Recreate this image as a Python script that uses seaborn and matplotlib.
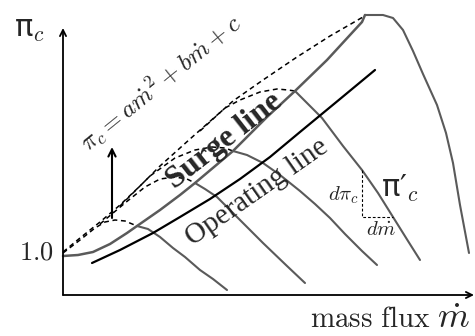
import matplotlib
matplotlib.use("Agg")
import matplotlib.pyplot as plt
import seaborn as sns

# ---- data: mass flux (m) and pressure ratio (pi) ----
surge_m = [0.00, 0.15, 0.30, 0.47, 0.64, 0.74, 0.97, 1.17, 1.32, 1.70, 2.04, 2.32, 2.64, 2.87, 2.99, 3.02]
surge_pi = [1.00, 1.01, 1.04, 1.12, 1.23, 1.30, 1.46, 1.61, 1.73, 2.05, 2.39, 2.65, 2.96, 3.21, 3.34, 3.41]

speed1_m = [0.74, 0.85, 0.97, 1.10, 1.22, 1.37, 1.50, 1.64]
speed1_pi = [1.30, 1.27, 1.19, 1.08, 0.99, 0.86, 0.77, 0.66]
speed2_m = [1.32, 1.42, 1.54, 1.77, 2.00, 2.24, 2.42]
speed2_pi = [1.73, 1.67, 1.59, 1.36, 1.13, 0.90, 0.73]
speed3_m = [1.70, 1.84, 2.00, 2.17, 2.37, 2.52, 2.67, 2.82, 2.99, 3.14]
speed3_pi = [2.05, 2.01, 1.93, 1.81, 1.65, 1.52, 1.38, 1.22, 1.05, 0.91]
speed4_m = [2.32, 2.42, 2.59, 2.80, 2.99, 3.15, 3.30, 3.45, 3.57]
speed4_pi = [2.65, 2.55, 2.38, 2.10, 1.86, 1.63, 1.39, 1.15, 0.96]
speed5_m = [3.02, 3.20, 3.30, 3.40, 3.50, 3.60, 3.74, 3.83, 3.90, 3.97, 4.06]
speed5_pi = [3.41, 3.41, 3.38, 3.26, 3.05, 2.82, 2.51, 2.23, 1.93, 1.51, 1.03]

oper_m = [0.29, 0.57, 0.90, 1.17, 1.47, 1.77, 2.07, 2.37, 2.77, 3.12]
oper_pi = [0.93, 1.06, 1.23, 1.39, 1.57, 1.77, 1.99, 2.24, 2.57, 2.86]

parab_m = [0.00, 0.17, 0.37, 0.57, 0.77, 0.97, 1.27, 1.70, 2.00, 2.34, 2.67, 3.00]
parab_pi = [1.04, 1.18, 1.34, 1.51, 1.70, 1.90, 2.17, 2.55, 2.76, 2.99, 3.20, 3.39]

hump1_m = [0.00, 0.17, 0.32, 0.42, 0.52, 0.62, 0.74]
hump1_pi = [1.03, 1.16, 1.28, 1.34, 1.36, 1.35, 1.30]
hump2_m = [0.37, 0.62, 0.82, 0.97, 1.12, 1.24, 1.32]
hump2_pi = [1.32, 1.53, 1.69, 1.77, 1.79, 1.77, 1.73]
hump3_m = [0.57, 0.87, 1.12, 1.32, 1.49, 1.62, 1.70]
hump3_pi = [1.50, 1.80, 1.98, 2.06, 2.09, 2.08, 2.05]
hump4_m = [1.37, 1.62, 1.77, 1.97, 2.14, 2.25, 2.32]
hump4_pi = [2.25, 2.48, 2.56, 2.64, 2.67, 2.66, 2.65]

slope_m = [2.99, 2.99, 3.30]
slope_pi = [1.86, 1.39, 1.39]

arrow_m = 0.49
arrow_pi = [1.38, 2.09]

axis_origin = (0.0, 0.61)
axis_xmax = 4.11
axis_ymax = 3.28

# ---- style ----
sns.set_theme(style="white")
plt.rcParams["mathtext.fontset"] = "cm"
plt.rcParams["font.family"] = ["DejaVu Sans"]

fig = plt.figure(figsize=(4.75, 3.36), dpi=100)
ax = fig.add_axes([0, 0, 1, 1])
ax.set_xlim(-0.63, 4.12)
ax.set_ylim(0.20, 3.56)
ax.set_axis_off()

GRAY = "#5a5a5a"


def draw(m, p, **kw):
    sns.lineplot(x=m, y=p, sort=False, estimator=None, ax=ax, legend=False, **kw)


dash = (0, (3.2, 2.4))
for hm, hp in [(parab_m, parab_pi), (hump1_m, hump1_pi), (hump2_m, hump2_pi),
               (hump3_m, hump3_pi), (hump4_m, hump4_pi)]:
    draw(hm, hp, color="black", linewidth=1.1, linestyle=dash)

for sm, sp in [(speed1_m, speed1_pi), (speed2_m, speed2_pi), (speed3_m, speed3_pi),
               (speed4_m, speed4_pi), (speed5_m, speed5_pi)]:
    draw(sm, sp, color=GRAY, linewidth=1.5)

draw(surge_m, surge_pi, color=GRAY, linewidth=1.8)
draw(oper_m, oper_pi, color="black", linewidth=1.6)
draw(slope_m, slope_pi, color="black", linewidth=0.8, linestyle=(0, (2.5, 1.8)))

# axes arrows
arrow_kw = dict(arrowstyle="->", lw=1.3, color="black", shrinkA=0, shrinkB=0,
                mutation_scale=11)
ax.annotate("", xy=(axis_origin[0], axis_ymax), xytext=axis_origin, arrowprops=arrow_kw)
ax.annotate("", xy=(axis_xmax, axis_origin[1]), xytext=axis_origin, arrowprops=arrow_kw)
ax.annotate("", xy=(arrow_m, arrow_pi[1]), xytext=(arrow_m, arrow_pi[0]),
            arrowprops=dict(arrowstyle="->", lw=1.5, color="black", shrinkA=0,
                            shrinkB=0, mutation_scale=13))

# texts
ax.text(-0.34, 3.27, "π$_c$", fontsize=22, ha="center", va="center", family="DejaVu Sans")
ax.text(-0.095, 1.04, r"$\mathrm{1.0}$", fontsize=19, ha="right", va="center")
ax.text(3.07, 0.37, r"$\mathrm{mass\ flux}$", fontsize=21, ha="center", va="center")
ax.text(3.90, 0.38, r"$\dot{m}$", fontsize=26, ha="center", va="center")
ax.text(3.37, 1.68, "π′$_c$", fontsize=22, ha="center", va="center", family="DejaVu Sans")
ax.text(2.81, 1.61, r"$d\pi_c$", fontsize=15, ha="center", va="center")
ax.text(3.18, 1.27, r"$d\dot{m}$", fontsize=15, ha="center", va="center")
ax.text(0.97, 2.74, r"$\pi_c = a\dot{m}^2 + b\dot{m} + c$", fontsize=18, rotation=39,
        ha="center", va="center", rotation_mode="anchor")
ax.text(1.62, 2.15, "Surge line", fontsize=23, fontweight="bold", family="Liberation Serif",
        rotation=38, ha="center", va="center", rotation_mode="anchor")
ax.text(1.94, 1.64, "Operating line", fontsize=21, family="Liberation Serif",
        rotation=35, ha="center", va="center", rotation_mode="anchor")

fig.savefig("out.png", dpi=100)
